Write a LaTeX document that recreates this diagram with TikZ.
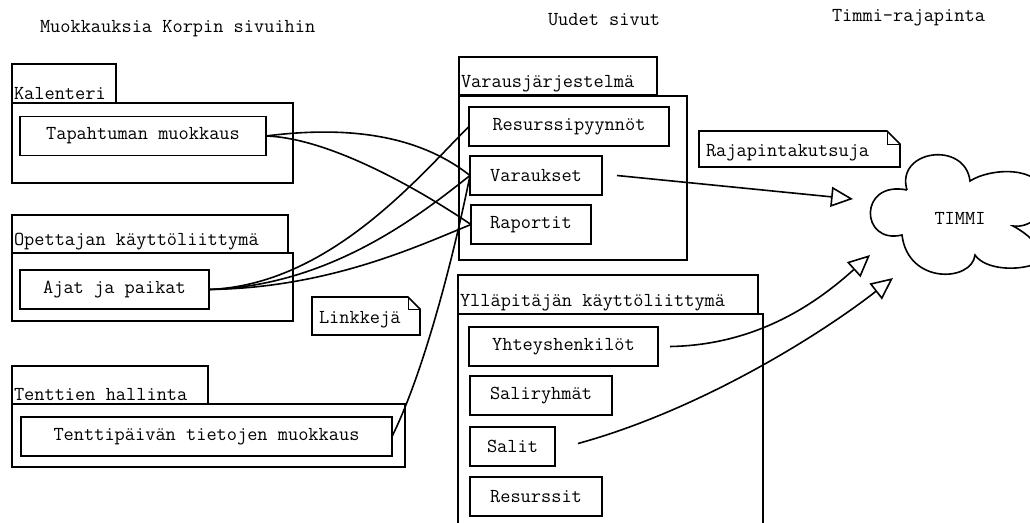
\documentclass[tikz,border=0pt]{standalone}
\usepackage{fontspec}
\usetikzlibrary{arrows.meta,calc}
\tikzset{
  every node/.style={font=\ttfamily\fontsize{19.8}{22}\selectfont, inner sep=0pt, outer sep=0pt},
  frame/.style={draw, line width=1.6pt},
  boxn/.style={draw, line width=1.6pt, minimum height=39pt},
  lbl/.style={anchor=south west, inner xsep=2pt, inner ysep=3pt},
  link/.style={line width=1.6pt},
  apiarrow/.style={line width=1.6pt, -{Triangle[open, length=22pt, width=20pt, line width=1.6pt]}},
  notefold/.style={line width=0.8pt}
}
\begin{document}
\begin{tikzpicture}[x=1pt, y=-1pt]
\useasboundingbox (0,0) rectangle (1030,522);

% headings
\node[anchor=west] (h1) at (40,29) {Muokkauksia Korpin sivuihin};
\node[anchor=west] (h2) at (548,20) {Uudet sivut};
\node[anchor=west] (h3) at (832,18) {Timmi-rajapinta};

% Kalenteri
\node[frame, minimum width=104pt, minimum height=39pt] (kaltab) at (64,83.5) {};
\node[lbl] (kallbl) at (kaltab.south west) {Kalenteri};
\node[frame, minimum width=281pt, minimum height=80pt] (kalbody) at (152.5,143) {};
\node[boxn, minimum width=246pt] (tap) at (143,136) {Tapahtuman muokkaus};

% Opettajan kayttoliittyma
\node[frame, minimum width=276pt, minimum height=38pt] (opetab) at (150,234) {};
\node[lbl] (opelbl) at (opetab.south west) {Opettajan käyttöliittymä};
\node[frame, minimum width=281pt, minimum height=68pt] (opebody) at (152.5,287) {};
\node[boxn, minimum width=189pt] (ajat) at (114.5,289.5) {Ajat ja paikat};

% Tenttien hallinta
\node[frame, minimum width=196pt, minimum height=38pt] (tenttab) at (110,385) {};
\node[lbl] (tentlbl) at (tenttab.south west) {Tenttien hallinta};
\node[frame, minimum width=393pt, minimum height=63pt] (tentbody) at (208.5,435.5) {};
\node[boxn, minimum width=371pt] (tentti) at (206.5,436.5) {Tenttipäivän tietojen muokkaus};

% Varausjarjestelma
\node[frame, minimum width=198pt, minimum height=38pt] (vartab) at (558,76) {};
\node[lbl] (varlbl) at (vartab.south west) {Varausjärjestelmä};
\node[frame, minimum width=228pt, minimum height=164pt] (varbody) at (573,178) {};
\node[boxn, minimum width=200pt] (res) at (569,126.5) {Resurssipyynnöt};
\node[boxn, minimum width=132pt] (var) at (536,175.5) {Varaukset};
\node[boxn, minimum width=120pt] (rap) at (531,224.5) {Raportit};

% Yllapitajan kayttoliittyma
\node[frame, minimum width=300pt, minimum height=39pt] (ylltab) at (608,294.5) {};
\node[lbl] (ylllbl) at (ylltab.south west) {Ylläpitäjän käyttöliittymä};
\node[frame, minimum width=305pt, minimum height=226pt] (yllbody) at (610.5,427) {};
\node[boxn, minimum width=189pt] (yht) at (563.5,346.5) {Yhteyshenkilöt};
\node[boxn, minimum width=142pt] (sali) at (541,395.5) {Saliryhmät};
\node[boxn, minimum width=85pt] (salit) at (512.5,446.5) {Salit};
\node[boxn, minimum width=132pt] (ress) at (536,496.5) {Resurssit};

% notes
\draw[frame] (312,297) -- (408,297) -- (420,309) -- (420,335) -- (312,335) -- cycle;
\draw[notefold] (408,297) -- (408,309) -- (420,309);
\node[anchor=west] (linkk) at (319,320) {Linkkejä};

\draw[frame] (699,131) -- (887,131) -- (900,144) -- (900,167) -- (699,167) -- cycle;
\draw[notefold] (887,131) -- (887,144) -- (900,144);
\node[anchor=west] (rajap) at (706,153) {Rajapintakutsuja};

% cloud
\draw[line width=1.6pt] (907,190)
  .. controls (895,150) and (965,140) .. (970,181)
  .. controls (990,168) and (1040,165) .. (1045,195)
  .. controls (1045,215) and (1030,228) .. (1013,226)
  .. controls (1030,235) and (1045,250) .. (1040,262)
  .. controls (1020,272) and (985,270) .. (975,255)
  .. controls (972,282) and (908,285) .. (902,235)
  .. controls (860,245) and (858,180) .. (907,190);
\node (timmi) at (960,218) {TIMMI};

% links from Korppi pages
\draw[link] (tap.east) .. controls (360,124) and (425,140) .. (var.west);
\draw[link] (tap.east) .. controls (330,138) and (420,190) .. (rap.west);
\draw[link] (ajat.east) .. controls (330,285) and (420,175) .. (res.west);
\draw[link] (ajat.east) .. controls (330,286) and (420,215) .. (var.west);
\draw[link] (ajat.east) .. controls (330,288) and (420,245) .. (rap.west);
\draw[link] (tentti.east) .. controls (425,370) and (455,250) .. (var.west);

% API calls
\coordinate (a1s) at ([xshift=15pt]var.east);
\coordinate (a1e) at (853,199);
\coordinate (a2s) at ([xshift=12pt]yht.east);
\coordinate (a2e) at (870,255);
\coordinate (a3s) at ([xshift=23pt,yshift=3pt]salit.east);
\coordinate (a3e) at (893,278);
\draw[apiarrow] (a1s) -- (a1e);
\draw[apiarrow] (a2s) .. controls (760,345) and (820,300) .. (a2e);
\draw[apiarrow] (a3s) .. controls (700,410) and (820,335) .. (a3e);
\end{tikzpicture}
\end{document}
